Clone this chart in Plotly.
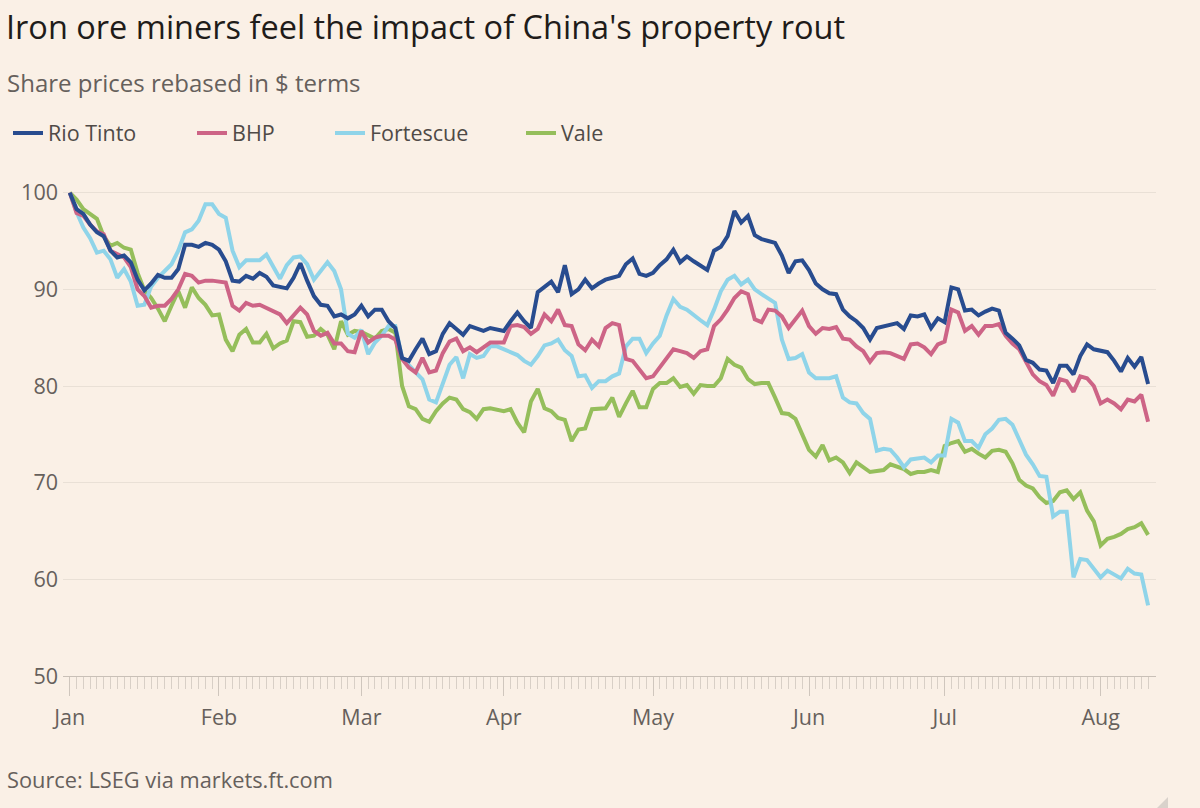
import pandas as pd
import plotly.graph_objects as go

# ---------------- data ----------------
dates = pd.bdate_range("2024-01-02", "2024-08-12")  # 160 trading days

rio_tinto = [
    100.0, 98.3, 97.8, 96.7, 95.9, 95.5, 94.0, 93.3, 93.5, 92.8,
    91.0, 89.9, 90.6, 91.5, 91.2, 91.2, 92.1, 94.6, 94.6, 94.4,
    94.8, 94.6, 94.1, 92.9, 90.9, 90.8, 91.4, 91.1, 91.7, 91.3,
    90.4, 90.2, 90.1, 91.2, 92.7, 90.9, 89.3, 88.4, 88.3, 87.2,
    87.4, 87.0, 87.4, 88.3, 87.2, 87.9, 87.9, 86.7, 86.0, 82.9,
    82.6, 83.8, 84.9, 83.3, 83.6, 85.4, 86.5, 85.9, 85.3, 86.2,
    85.9, 85.7, 86.0, 85.9, 85.7, 86.7, 87.6, 86.7, 86.0, 89.7,
    90.2, 90.8, 89.7, 92.5, 89.5, 90.0, 91.0, 90.1, 90.6, 91.0,
    91.2, 91.4, 92.6, 93.2, 91.6, 91.4, 91.7, 92.5, 93.1, 94.1,
    92.8, 93.4, 92.9, 92.4, 92.0, 94.0, 94.4, 95.5, 98.1, 96.9,
    97.6, 95.6, 95.2, 95.0, 94.8, 93.5, 91.7, 92.9, 93.0, 92.0,
    90.6, 90.0, 89.6, 89.5, 87.9, 87.2, 86.7, 86.0, 84.8, 86.0,
    86.2, 86.4, 86.5, 85.9, 87.3, 87.2, 87.4, 86.0, 87.0, 86.6,
    90.2, 90.0, 87.8, 87.9, 87.3, 87.7, 88.0, 87.8, 85.5, 84.9,
    84.2, 82.7, 82.4, 81.7, 81.6, 80.3, 82.1, 82.1, 81.2, 83.1,
    84.3, 83.8, 83.6, 83.5, 82.6, 81.5, 82.9, 82.0, 83.0, 80.2,
]

bhp = [
    100.0, 97.9, 97.6, 96.7, 96.0, 95.7, 94.0, 93.7, 93.3, 92.3,
    90.0, 89.3, 88.1, 88.3, 88.3, 89.0, 90.0, 91.6, 91.4, 90.7,
    90.9, 90.9, 90.8, 90.7, 88.3, 87.8, 88.6, 88.3, 88.4, 88.1,
    87.7, 87.4, 86.5, 87.3, 88.1, 87.4, 85.7, 85.2, 85.5, 84.4,
    84.4, 83.6, 83.5, 85.7, 84.5, 85.0, 85.2, 85.2, 84.8, 82.8,
    81.9, 81.4, 82.9, 81.4, 81.6, 83.4, 84.6, 84.9, 83.6, 84.0,
    83.5, 84.0, 84.5, 84.5, 84.5, 86.2, 86.3, 86.1, 85.4, 85.9,
    87.4, 86.7, 87.9, 86.3, 86.2, 84.3, 83.7, 84.8, 84.1, 86.0,
    86.5, 86.3, 82.8, 82.6, 81.7, 80.8, 81.0, 81.9, 82.8, 83.8,
    83.6, 83.4, 82.9, 83.6, 83.8, 86.2, 86.9, 87.9, 89.1, 89.8,
    89.5, 86.9, 86.6, 87.9, 87.8, 87.2, 86.0, 86.9, 87.8, 86.2,
    85.4, 86.0, 85.9, 86.1, 84.9, 84.8, 84.1, 83.6, 82.5, 83.4,
    83.5, 83.4, 83.1, 82.8, 84.3, 84.4, 84.0, 83.3, 84.3, 84.6,
    87.9, 87.6, 85.7, 86.2, 85.3, 86.2, 86.2, 86.4, 85.2, 84.4,
    83.8, 82.4, 81.2, 80.5, 80.1, 79.0, 80.7, 80.5, 79.4, 81.0,
    80.8, 80.0, 78.2, 78.6, 78.2, 77.6, 78.6, 78.4, 79.1, 76.3,
]

fortescue = [
    100.0, 98.0, 96.4, 95.3, 93.8, 94.0, 93.1, 91.2, 92.1, 90.8,
    88.3, 88.4, 90.3, 91.2, 91.9, 92.6, 94.0, 95.9, 96.2, 97.1,
    98.8, 98.8, 97.8, 97.4, 94.0, 92.3, 93.0, 93.0, 93.0, 93.6,
    92.3, 91.1, 92.5, 93.3, 93.4, 92.6, 91.0, 91.9, 92.8, 91.9,
    90.0, 85.4, 85.0, 85.8, 83.3, 84.5, 85.2, 86.2, 86.2, 82.9,
    82.1, 81.4, 80.7, 78.6, 78.3, 80.4, 82.2, 83.0, 80.8, 83.3,
    82.9, 83.1, 84.1, 84.1, 83.8, 83.4, 83.2, 82.6, 82.2, 83.1,
    84.2, 84.4, 84.8, 83.7, 83.1, 81.0, 81.1, 79.8, 80.5, 80.5,
    81.0, 81.3, 84.1, 84.9, 84.9, 83.4, 84.4, 85.2, 87.3, 89.0,
    88.2, 87.9, 87.3, 86.8, 86.3, 87.9, 89.8, 91.0, 91.4, 90.5,
    91.0, 90.0, 89.5, 89.0, 88.6, 84.8, 82.8, 82.9, 83.3, 81.4,
    80.8, 80.8, 80.8, 81.0, 78.8, 78.3, 78.2, 77.2, 76.6, 73.3,
    73.5, 73.4, 72.6, 71.6, 72.4, 72.5, 72.6, 72.1, 72.8, 72.8,
    76.6, 76.2, 74.3, 74.3, 73.6, 75.0, 75.6, 76.5, 76.6, 76.0,
    74.5, 72.9, 71.9, 70.7, 70.6, 66.5, 67.0, 67.0, 60.2, 62.1,
    62.0, 61.1, 60.2, 60.9, 60.5, 60.1, 61.1, 60.6, 60.5, 57.3,
]

vale = [
    100.0, 99.3, 98.3, 97.8, 97.3, 95.5, 94.5, 94.8, 94.3, 94.1,
    91.7, 89.9, 89.1, 88.0, 86.7, 88.3, 89.8, 88.1, 90.2, 89.1,
    88.4, 87.3, 87.4, 84.8, 83.6, 85.3, 85.9, 84.5, 84.5, 85.4,
    83.9, 84.4, 84.7, 86.7, 86.6, 85.1, 85.2, 85.9, 85.3, 83.8,
    86.7, 85.3, 85.7, 85.6, 85.2, 84.9, 85.7, 85.9, 85.5, 80.0,
    77.9, 77.6, 76.6, 76.3, 77.4, 78.2, 78.8, 78.6, 77.6, 77.3,
    76.6, 77.6, 77.7, 77.6, 77.4, 77.6, 76.2, 75.2, 78.4, 79.7,
    77.7, 77.4, 76.7, 76.5, 74.3, 75.5, 75.6, 77.6, 77.7, 77.7,
    78.8, 76.8, 78.2, 79.5, 77.8, 77.8, 79.7, 80.3, 80.3, 80.8,
    79.9, 80.1, 79.2, 80.1, 80.0, 80.0, 80.8, 82.8, 82.2, 81.9,
    80.7, 80.2, 80.3, 80.3, 78.8, 77.2, 77.1, 76.6, 75.0, 73.4,
    72.7, 73.9, 72.3, 72.6, 72.1, 71.0, 72.1, 71.6, 71.1, 71.2,
    71.3, 71.9, 71.7, 71.4, 70.9, 71.1, 71.1, 71.3, 71.1, 73.8,
    74.1, 74.3, 73.2, 73.5, 73.0, 72.6, 73.3, 73.4, 73.2, 72.0,
    70.3, 69.7, 69.4, 68.5, 67.9, 68.1, 69.0, 69.2, 68.3, 69.0,
    67.1, 66.0, 63.5, 64.2, 64.4, 64.7, 65.2, 65.4, 65.8, 64.6,
]

series_names = ["Rio Tinto", "BHP", "Fortescue", "Vale"]
series_values = [rio_tinto, bhp, fortescue, vale]
series_colors = ["#284c8f", "#cd6486", "#8fd4e9", "#95be5b"]

month_tick_dates = ["2024-01-02", "2024-02-01", "2024-03-01", "2024-04-01",
                    "2024-05-01", "2024-06-03", "2024-07-01", "2024-08-01"]
month_tick_labels = ["Jan", "Feb", "Mar", "Apr", "May", "Jun", "Jul", "Aug"]
y_tick_values = [50, 60, 70, 80, 90, 100]

# ---------------- layout helpers ----------------
W, H = 1200, 808
L, R, T, B = 63, 1156, 183, 676
BG = "#faf0e6"
FONT = "'Open Sans', sans-serif"
GREY = "#66605c"


def pxp(x):
    return (x - L) / (R - L)


def pyp(y):
    return (B - y) / (B - T)


fig = go.Figure()
legend_ids = ["legend", "legend2", "legend3", "legend4"]
legend_text_x = [48, 232, 370, 561]

# draw Vale first so Rio Tinto sits on top, as in the original
order = [3, 2, 1, 0]
for k in order:
    fig.add_trace(go.Scatter(
        x=dates, y=series_values[k], name=series_names[k], mode="lines",
        line=dict(color=series_colors[k], width=4),
        legend=legend_ids[k], hoverinfo="skip",
    ))

legend_cfg = {}
for lid, tx in zip(legend_ids, legend_text_x):
    legend_cfg[lid] = dict(
        xref="container", yref="container",
        x=(tx - 40) / W, y=1 - 133 / H, xanchor="left", yanchor="middle",
        orientation="h", bgcolor="rgba(0,0,0,0)",
        font=dict(family=FONT, size=21.5, color="#4f4a47"),
        itemclick=False, itemdoubleclick=False,
    )

fig.update_layout(
    width=W, height=H,
    paper_bgcolor=BG, plot_bgcolor=BG,
    margin=dict(l=L, r=W - R, t=T, b=H - B),
    showlegend=True,
    title=dict(
        text="Iron ore miners feel the impact of China's property rout",
        font=dict(family=FONT, size=32.5, color="#1f1c1a"),
        xref="container", yref="container",
        x=6 / W, y=1 - 28 / H, xanchor="left", yanchor="middle",
    ),
    **legend_cfg,
    annotations=[
        dict(text="Share prices rebased in $ terms", xref="paper", yref="paper",
             x=pxp(5), y=pyp(82), xanchor="left", yanchor="middle", showarrow=False,
             font=dict(family=FONT, size=24, color=GREY)),
        dict(text="Source: LSEG via markets.ft.com", xref="paper", yref="paper",
             x=pxp(5), y=pyp(779), xanchor="left", yanchor="middle", showarrow=False,
             font=dict(family=FONT, size=21.8, color=GREY)),
    ],
    shapes=[
        dict(type="path", xref="paper", yref="paper",
             path=f"M {pxp(1157)} {pyp(808)} L {pxp(1168)} {pyp(797)} L {pxp(1168)} {pyp(808)} Z",
             fillcolor="#d9d2cb", line=dict(width=0)),
    ],
)

fig.update_xaxes(
    type="date",
    rangebreaks=[dict(bounds=["sat", "mon"])],
    range=["2024-01-01", "2024-08-13 04:00"],
    tickmode="array", tickvals=month_tick_dates, ticktext=month_tick_labels,
    ticks="outside", ticklen=19, tickwidth=1, tickcolor="#cfc6bd",
    minor=dict(tickmode="array", tickvals=list(dates), ticks="outside",
               ticklen=12, tickwidth=1, tickcolor="#d8cfc6", showgrid=False),
    showline=True, linecolor="#c9c0b7", linewidth=1,
    showgrid=False, zeroline=False,
    tickfont=dict(family=FONT, size=21.5, color=GREY),
    ticklabelstandoff=3,
)

fig.update_yaxes(
    range=[50, 101],
    tickmode="array", tickvals=y_tick_values,
    showgrid=True, gridcolor="#e9e0d6", gridwidth=1,
    zeroline=False, showline=False, ticks="",
    tickfont=dict(family=FONT, size=21.5, color=GREY),
    ticklabelstandoff=4,
)

fig.write_html(
    "out.html",
    config={"displayModeBar": False},
    post_script="document.body.style.margin='0';document.body.style.background='" + BG + "';",
)
